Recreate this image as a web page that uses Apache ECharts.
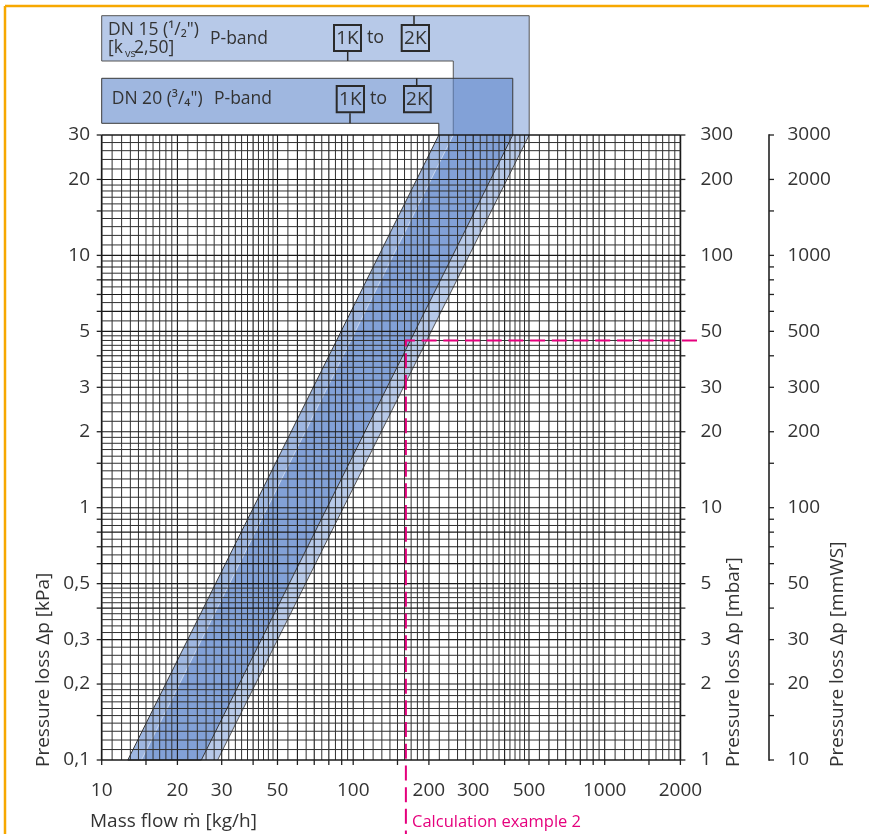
<!DOCTYPE html>
<html>
<head>
<meta charset="utf-8">
<script src="https://cdn.jsdelivr.net/npm/echarts@6/dist/echarts.min.js"></script>
<style>html,body{margin:0;padding:0;background:#fff}#c{width:869px;height:834px}</style>
</head>
<body>
<div id="c"></div>
<script>
// ---------------- data ----------------
const flowMin = 10, flowMax = 2000;          // kg/h
const dpMin = 0.1, dpMax = 30;               // kPa
const decades = [0.1, 1, 10, 100, 1000];
const gridMantissa = [1,1.1,1.2,1.3,1.4,1.5,1.6,1.7,1.8,1.9,
                      2,2.2,2.4,2.6,2.8,3,3.2,3.4,3.6,3.8,4,4.2,4.4,4.6,4.8,
                      5,5.5,6,6.5,7,7.5,8,8.5,9,9.5];
const tickMantissa = [1,1.5,2,3,4,5,6,7,8,9];
const flowLabels = [10,20,30,50,100,200,300,500,1000,2000];
const kpaLabels  = [0.1,0.2,0.3,0.5,1,2,3,5,10,20,30];
const mbarLabels = [1,2,3,5,10,20,30,50,100,200,300];
const mmwsLabels = [10,20,30,50,100,200,300,500,1000,2000,3000];
// P-band edges: mass flow [kg/h] at the two band ends (bandDp, kPa)
const bandDp   = [0.1, 30];
const dn15Low  = [14.4, 250];
const dn15High = [28.9, 501];
const dn20Low  = [12.7, 219];
const dn20High = [24.9, 431];
// calculation example 2
const exampleFlow = [162];
const exampleDp   = [4.6];

// ---------------- helpers ----------------
const FF = '"Open Sans","Noto Sans","DejaVu Sans",sans-serif';
const TXT = '#333333';
const MAG = '#e5007d';
const font = s => s + 'px ' + FF;
function expand(mants, lo, hi) {
  const out = [];
  decades.forEach(d => mants.forEach(m => {
    const v = +(m * d).toPrecision(6);
    if (v >= lo * 0.9999 && v <= hi * 1.0001) out.push(v);
  }));
  return out;
}
function isMajor(v) {
  const e = Math.floor(Math.log10(v) + 1e-9);
  const m = v / Math.pow(10, e);
  return Math.abs(m - Math.round(m)) < 1e-6;
}
const xGrid = expand(gridMantissa, flowMin, flowMax);
const yGrid = expand(gridMantissa, dpMin, dpMax);
const xTicks = expand(tickMantissa, flowMin, flowMax);
const yTicks = expand(tickMantissa, dpMin, dpMax);
const fmtKpa = v => String(v).replace('.', ',');

function txt(x, y, text, size, align, extra) {
  return Object.assign({
    type: 'text', x: x, y: y, z: 100, silent: true,
    style: { text: text, fill: TXT, font: font(size), align: align, textAlign: align,
             verticalAlign: 'middle', textVerticalAlign: 'middle' }
  }, extra || {});
}
function ln(x1, y1, x2, y2, w, c) {
  return { type: 'line', z: 100, silent: true, shape: { x1, y1, x2, y2 },
           style: { stroke: c || '#2a2a2a', lineWidth: w || 1 } };
}

// pixel layout of the two label boxes
const box15 = { x0: 101.7, y0: 15.7, y1: 61 };
const box20 = { x0: 101.7, y0: 78.3, y1: 123.3 };

function bandGeom(api, low, high, box) {
  const tl = api.coord([low[1], bandDp[1]]);
  const tr = api.coord([high[1], bandDp[1]]);
  const bl = api.coord([low[0], bandDp[0]]);
  const br = api.coord([high[0], bandDp[0]]);
  const pts = [[box.x0, box.y0], [tr[0], box.y0], tr, br, bl, tl, [tl[0], box.y1], [box.x0, box.y1]];
  return { tl, tr, bl, br, pts };
}

const series = [];
// bands + label boxes
series.push({
  type: 'custom', silent: true, clip: false, z: 1,
  data: [[flowMin, dpMin]],
  renderItem: function (params, api) {
    const g15 = bandGeom(api, dn15Low, dn15High, box15);
    const g20 = bandGeom(api, dn20Low, dn20High, box20);
    return { type: 'group', children: [
      { type: 'polygon', shape: { points: g15.pts }, style: { fill: 'rgba(95,135,204,0.45)', stroke: null } },
      { type: 'polyline', shape: { points: [g15.br, g15.tr, [g15.tr[0], box15.y0], [box15.x0, box15.y0], [box15.x0, box15.y1], [g15.tl[0], box15.y1], g15.tl] },
        style: { stroke: '#555', lineWidth: 1, fill: null } },
      { type: 'polygon', shape: { points: g20.pts }, style: { fill: 'rgba(95,135,204,0.6)', stroke: '#3a3a3a', lineWidth: 1 } },
      { type: 'polyline', shape: { points: [g15.tl, g15.bl] },
        style: { stroke: 'rgba(255,255,255,0.5)', lineWidth: 1, fill: null } }
    ] };
  }
});
// vertical grid lines
series.push({
  type: 'custom', silent: true, clip: false, z: 2,
  data: xGrid.map(v => [v, 1]),
  renderItem: function (params, api) {
    const v = api.value(0);
    const a = api.coord([v, dpMin]), b = api.coord([v, dpMax]);
    const border = (v === flowMin || v === flowMax);
    return { type: 'line', shape: { x1: a[0], y1: a[1], x2: b[0], y2: b[1] },
             style: { stroke: isMajor(v) ? '#1a1a1a' : '#303030', lineWidth: border ? 1.7 : (isMajor(v) ? 1.1 : 1) } };
  }
});
// horizontal grid lines
series.push({
  type: 'custom', silent: true, clip: false, z: 2,
  data: yGrid.map(v => [flowMin, v]),
  renderItem: function (params, api) {
    const v = api.value(1);
    const a = api.coord([flowMin, v]), b = api.coord([flowMax, v]);
    const border = (v === dpMin || v === dpMax);
    return { type: 'line', shape: { x1: a[0], y1: a[1], x2: b[0], y2: b[1] },
             style: { stroke: isMajor(v) ? '#1a1a1a' : '#303030', lineWidth: border ? 1.7 : (isMajor(v) ? 1.1 : 1) } };
  }
});
// bottom ticks
series.push({
  type: 'custom', silent: true, clip: false, z: 3,
  data: xTicks.map(v => [v, dpMin]),
  renderItem: function (params, api) {
    const p = api.coord([api.value(0), dpMin]);
    return { type: 'line', shape: { x1: p[0], y1: p[1], x2: p[0], y2: p[1] + 5 }, style: { stroke: '#222', lineWidth: 1.3 } };
  }
});
// left, right (mbar) and mmWS ticks
const mmwsX = 769;
series.push({
  type: 'custom', silent: true, clip: false, z: 3,
  data: yTicks.map(v => [flowMin, v]),
  renderItem: function (params, api) {
    const v = api.value(1);
    const l = api.coord([flowMin, v]), r = api.coord([flowMax, v]);
    return { type: 'group', children: [
      { type: 'line', shape: { x1: l[0] - 5, y1: l[1], x2: l[0], y2: l[1] }, style: { stroke: '#222', lineWidth: 1.3 } },
      { type: 'line', shape: { x1: r[0], y1: r[1], x2: r[0] + 5, y2: r[1] }, style: { stroke: '#222', lineWidth: 1.3 } },
      { type: 'line', shape: { x1: mmwsX, y1: r[1], x2: mmwsX + 5, y2: r[1] }, style: { stroke: '#222', lineWidth: 1.3 } }
    ] };
  }
});
// mmWS axis line
series.push({
  type: 'custom', silent: true, clip: false, z: 3,
  data: [[flowMax, dpMax]],
  renderItem: function (params, api) {
    const t = api.coord([flowMax, dpMax]), b = api.coord([flowMax, dpMin]);
    return { type: 'line', shape: { x1: mmwsX, y1: t[1] - 0.7, x2: mmwsX, y2: b[1] + 0.7 }, style: { stroke: '#222', lineWidth: 1.6 } };
  }
});
// tick labels
function labelSeries(values, toPoint, textOf, align) {
  return {
    type: 'custom', silent: true, clip: false, z: 4,
    data: values.map(v => [v]),
    renderItem: function (params, api) {
      const v = values[params.dataIndex];
      const p = toPoint(api, v);
      return { type: 'text', x: p[0], y: p[1],
               style: { text: textOf(v), fill: TXT, font: font(19), align: align, textAlign: align,
                        verticalAlign: 'middle', textVerticalAlign: 'middle' } };
    }
  };
}
series.push(labelSeries(flowLabels, (api, v) => { const p = api.coord([v, dpMin]); return [p[0], p[1] + 31]; }, v => String(v), 'center'));
series.push(labelSeries(kpaLabels, (api, v) => { const p = api.coord([flowMin, v]); return [90, p[1]]; }, fmtKpa, 'right'));
series.push(labelSeries(mbarLabels, (api, v) => { const p = api.coord([flowMax, v / 10]); return [700.5, p[1]]; }, v => String(v), 'left'));
series.push(labelSeries(mmwsLabels, (api, v) => { const p = api.coord([flowMax, v / 100]); return [787.5, p[1]]; }, v => String(v), 'left'));
// calculation example 2 (dashed magenta lines)
series.push({
  type: 'custom', silent: true, clip: false, z: 5,
  data: exampleFlow.map((f, i) => [f, exampleDp[i]]),
  renderItem: function (params, api) {
    const p = api.coord([api.value(0), api.value(1)]);
    return { type: 'polyline', shape: { points: [[697, p[1]], p, [p[0], 834]] },
             style: { stroke: MAG, lineWidth: 2, lineDash: [15, 6.7], fill: null } };
  }
});

const graphics = [
  ln(5, 6, 869, 6, 2.5, '#f7a800'),
  ln(5, 6, 5, 834, 2.5, '#f7a800'),
  // DN15 box text
  txt(108, 30.5, 'DN 15 (¹/₂")', 17.5, 'left'),
  txt(108, 48.5, '[k', 17.5, 'left'),
  txt(125, 53.5, 'vs', 11, 'left'),
  txt(134, 48.5, '2,50]', 17.5, 'left'),
  txt(210, 39, 'P-band', 17.5, 'left'),
  { type: 'rect', z: 100, silent: true, shape: { x: 334, y: 25, width: 27, height: 26 }, style: { fill: null, stroke: '#2a2a2a', lineWidth: 2 } },
  txt(347.5, 38.5, '1K', 19, 'center'),
  txt(375.5, 38, 'to', 18, 'center'),
  { type: 'rect', z: 100, silent: true, shape: { x: 401.7, y: 25, width: 27.3, height: 26 }, style: { fill: null, stroke: '#2a2a2a', lineWidth: 2 } },
  txt(415.3, 38.5, '2K', 19, 'center'),
  ln(347.7, 52, 347.7, 61, 1.5),
  ln(414, 15.7, 414, 24, 1.5),
  // DN20 box text
  txt(111.7, 99.3, 'DN 20 (³/₄")', 17.5, 'left'),
  txt(214, 99.3, 'P-band', 17.5, 'left'),
  { type: 'rect', z: 100, silent: true, shape: { x: 336.7, y: 86, width: 27.3, height: 26.3 }, style: { fill: null, stroke: '#2a2a2a', lineWidth: 2 } },
  txt(350.3, 99.7, '1K', 19, 'center'),
  txt(378.5, 99.2, 'to', 18, 'center'),
  { type: 'rect', z: 100, silent: true, shape: { x: 404, y: 86, width: 26.7, height: 26.3 }, style: { fill: null, stroke: '#2a2a2a', lineWidth: 2 } },
  txt(417.3, 99.7, '2K', 19, 'center'),
  ln(350, 113.3, 350, 123.3, 1.5),
  ln(416.7, 78.3, 416.7, 85, 1.5),
  // axis titles
  txt(44, 767, 'Pressure loss Δp [kPa]', 19, 'left', { rotation: Math.PI / 2 }),
  txt(734, 767, 'Pressure loss Δp [mbar]', 19, 'left', { rotation: Math.PI / 2 }),
  txt(838, 767, 'Pressure loss Δp [mmWS]', 19, 'left', { rotation: Math.PI / 2 }),
  txt(90, 822, 'Mass flow ṁ [kg/h]', 19, 'left'),
  txt(412, 822, 'Calculation example 2', 16.5, 'left')
];
graphics[graphics.length - 1].style.fill = MAG;

const chart = echarts.init(document.getElementById('c'), null, { renderer: 'canvas' });
chart.setOption({
  animation: false,
  backgroundColor: '#ffffff',
  grid: { left: 101.7, right: 188.6, top: 135, bottom: 74 },
  xAxis: { type: 'log', logBase: 10, min: flowMin, max: flowMax, show: false },
  yAxis: { type: 'log', logBase: 10, min: dpMin, max: dpMax, show: false },
  series: series,
  graphic: { elements: graphics }
});
</script>
</body>
</html>
